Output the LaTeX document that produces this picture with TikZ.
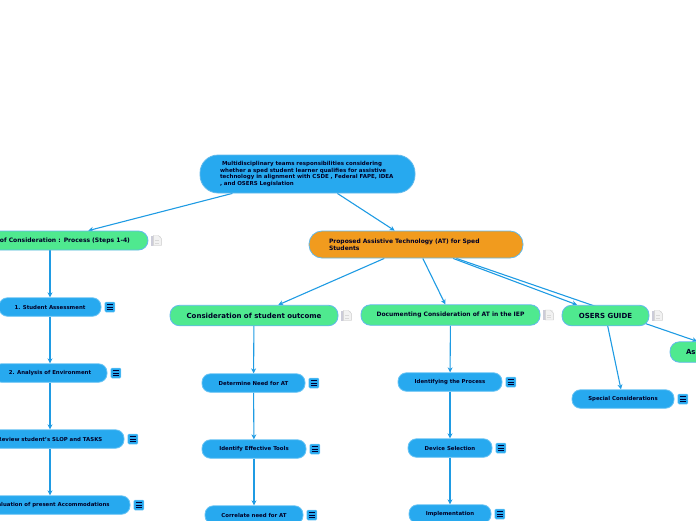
\documentclass[tikz,border=0pt]{standalone}
\usepackage{fontspec}
\setmainfont{DejaVu Sans}
\usetikzlibrary{backgrounds,arrows.meta}
\definecolor{linkblue}{HTML}{1F9BE3}
\definecolor{stepblue}{HTML}{27A9EF}
\definecolor{topicgreen}{HTML}{4FE98F}
\definecolor{topicorange}{HTML}{F19B1E}
\tikzset{
  bubble/.style={draw=linkblue!70!white,line width=0.8pt,inner sep=0pt,align=center,font=\bfseries\fontsize{5.4}{6.6}\selectfont,text=black!85!blue},
  stepbox/.style={bubble,fill=stepblue,draw=stepblue!70!white,minimum height=18.5pt,rounded corners=8.5pt},
  topicbox/.style={bubble,fill=topicgreen,minimum height=20.5pt,rounded corners=9.5pt},
  link/.style={draw=linkblue,line width=1.1pt,-{Stealth[length=5pt,width=5pt]}},
  menubadge/.pic={
    \fill[stepblue,draw=stepblue!60!white,line width=0.5pt,rounded corners=1pt] (-5,-5) rectangle (5,5);
    \foreach \ry in {-2.5,0,2.5}
      \draw[black!80!blue,line width=0.7pt] (-3,\ry) -- (3,\ry);
  },
  notebadge/.pic={
    \fill[black!5] (-3,-5) rectangle (5,5);
    \fill[blue!25!black!20] (-5,-5) rectangle (-3.4,5);
    \draw[black!22,line width=0.4pt] (-3,-5) -- (2,-5) -- (5,-2) -- (5,5) -- (-3,5) -- cycle;
    \draw[black!15,line width=0.4pt] (-1,0) -- (3,0) (-1,2.5) -- (3,2.5);
  }
}
\begin{document}
\begin{tikzpicture}[x=1pt,y=-1pt]
\useasboundingbox (0,0) rectangle (696,520);
% top of the map
\node[bubble,fill=stepblue,minimum width=215pt,minimum height=38pt,rounded corners=18pt,text width=175pt,align=left,font=\bfseries\fontsize{5.5}{6.4}\selectfont] (root) at (307.5,174)
  {\hspace*{2pt}Multidisciplinary teams responsibilities considering\\whether a sped student learner qualifies for assistive\\technology in alignment with CSDE , Federal FAPE, IDEA\\, and OSERS Legislation};
\node[topicbox,minimum width=196pt,minimum height=19pt,text width=160pt,align=right,font=\bfseries\fontsize{6.05}{7}\selectfont] (process) at (50,240.5) {of Consideration : Process (Steps 1-4)};
\node[bubble,fill=topicorange,minimum width=214pt,minimum height=27pt,rounded corners=13pt,text width=174pt,align=left,font=\bfseries\fontsize{6}{7.2}\selectfont] (proposed) at (416,244.5)
  {Proposed Assistive Technology (AT) for Sped\\Students};
% second row
\node[topicbox,minimum width=168pt,font=\bfseries\fontsize{7}{8}\selectfont] (outcome) at (254,315.5) {Consideration of student outcome};
\node[topicbox,minimum width=179pt,font=\bfseries\fontsize{6}{7}\selectfont] (documenting) at (450.5,315) {Documenting Consideration of AT in the IEP};
\node[topicbox,minimum width=87pt,font=\bfseries\fontsize{7}{8}\selectfont] (osers) at (605.5,315.5) {OSERS GUIDE};
\node[topicbox,minimum width=116pt,text width=84pt,align=left,font=\bfseries\fontsize{7}{8}\selectfont] (assess) at (728,352) {As};
% steps
\node[stepbox,minimum width=102pt] (assessment) at (50,307) {1. Student Assessment};
\node[stepbox,minimum width=114pt] (environment) at (50,373) {2. Analysis of Environment};
\node[stepbox,minimum width=148pt] (slop) at (50,439) {Review student's SLOP and TASKS};
\node[stepbox,minimum width=160pt] (accommodations) at (50,505) {Evaluation of present Accommodations};
\node[stepbox,minimum width=103pt] (need) at (253.5,383) {Determine Need for AT};
\node[stepbox,minimum width=104pt] (tools) at (254,449) {Identify Effective Tools};
\node[stepbox,minimum width=98pt] (correlate) at (254,515) {Correlate need for AT};
\node[stepbox,minimum width=104pt] (identifying) at (450,382) {Identifying the Process};
\node[stepbox,minimum width=84pt] (device) at (450,448) {Device Selection};
\node[stepbox,minimum width=82pt] (implementation) at (450,514) {Implementation};
\node[stepbox,minimum width=102pt] (special) at (623,399) {Special Considerations};
% small icons
\foreach \n in {assessment,environment,slop,accommodations,need,tools,correlate,identifying,device,implementation,special}
  \pic at ([xshift=8.5pt]\n.east) {menubadge};
\foreach \n in {process,outcome,documenting,osers}
  \pic at ([xshift=8pt]\n.east) {notebadge};
% connectors
\begin{scope}[on background layer]
\foreach \a/\b in {root/process,root/proposed,proposed/outcome,proposed/documenting,proposed/osers,proposed/assess,
  process/assessment,assessment/environment,environment/slop,slop/accommodations,
  outcome/need,need/tools,tools/correlate,
  documenting/identifying,identifying/device,device/implementation,osers/special}
  \draw[link] (\a) -- (\b);
\end{scope}
\end{tikzpicture}
\end{document}
